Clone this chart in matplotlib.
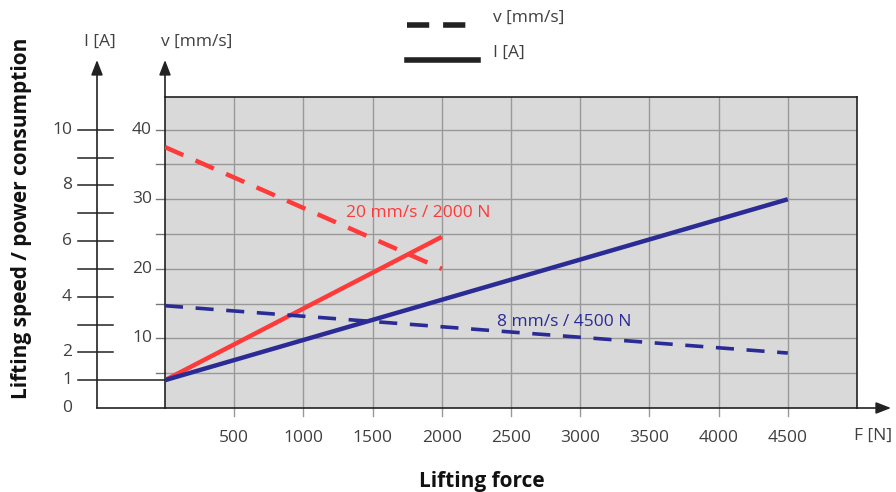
import matplotlib
matplotlib.use("Agg")
import matplotlib.pyplot as plt
from matplotlib.transforms import blended_transform_factory

plt.rcParams['font.family'] = ['Open Sans', 'DejaVu Sans']

# data (force in N, speed in mm/s, current in A)
force_fast = [0, 2000]
speed_fast = [37.5, 20.0]
current_fast = [1.0, 6.15]

force_slow = [0, 4500]
speed_slow = [14.7, 7.9]
current_slow = [1.0, 7.5]

x_ticks = [500, 1000, 1500, 2000, 2500, 3000, 3500, 4000, 4500]
v_ticks = [10, 20, 30, 40]
v_grid = [5, 10, 15, 20, 25, 30, 35, 40]
i_ticks = [0, 1, 2, 3, 4, 5, 6, 7, 8, 9, 10]
i_labels = ['0', '1', '2', '', '4', '', '6', '', '8', '', '10']

RED = '#ff3a3a'
BLUE = '#2b2b96'
TXT = '#404040'
W, H = 896, 492

fig = plt.figure(figsize=(W / 100, H / 100), dpi=100)

def fx(px):
    return px / W

def fy(py):
    return 1 - py / H

# plot box in pixels: x 165..857, y 97..408
ax = fig.add_axes([fx(165), fy(408), fx(857) - fx(165), fy(97) - fy(408)])
ax.set_facecolor('#d9d9d9')
ax.set_xlim(0, 5000)
ax.set_ylim(0, 44.7)
for s in ax.spines.values():
    s.set_color('#222222')
    s.set_linewidth(1.2)
ax.set_xticks([])
ax.set_yticks([])

for x in x_ticks:
    ax.axvline(x, color='#999999', lw=1.0, zorder=1)
    ax.plot([x, x], [0, -1.2], color='#999999', lw=1.0, clip_on=False)
    ax.text(x, -3.2, f'{x}', ha='center', va='top', fontsize=12.5, color=TXT)
for v in v_grid:
    ax.axhline(v, color='#999999', lw=1.0, zorder=1)

# data lines
ax.plot(force_fast, speed_fast, color=RED, lw=3.2, ls=(0, (4.5, 3)), zorder=3)
ax.plot(force_fast, [4 * c for c in current_fast], color=RED, lw=3.2, zorder=3, solid_capstyle='butt')
ax.plot(force_slow, speed_slow, color=BLUE, lw=2.6, ls=(0, (5, 3.5)), zorder=3)
ax.plot(force_slow, [4 * c for c in current_slow], color=BLUE, lw=3.2, zorder=3, solid_capstyle='butt')

ax.text(1310, 28.0, '20 mm/s / 2000 N', color=RED, fontsize=12.5, ha='left', va='center', zorder=4)
ax.text(2400, 12.4, '8 mm/s / 4500 N', color=BLUE, fontsize=12.5, ha='left', va='center', zorder=4)

# v axis (left edge of box) with ticks
tv = blended_transform_factory(fig.transFigure, ax.transData)
for v in v_grid:
    ax.plot([fx(156), fx(165)], [v, v], transform=tv, color='#777777', lw=1.0, clip_on=False)
for v in v_ticks:
    ax.text(fx(152), v, f'{v}', transform=tv, ha='right', va='center', fontsize=12.5, color=TXT)

# I axis, same vertical scale: I = v / 4
for i, lab in zip(i_ticks, i_labels):
    if i > 0:
        x1 = 165 if i == 1 else 113
        ax.plot([fx(78), fx(x1)], [4 * i, 4 * i], transform=tv, color='#222222', lw=1.1,
                clip_on=False)
    if lab:
        ax.text(fx(72), 4 * i, lab, transform=tv, ha='right', va='center', fontsize=12.5,
                color=TXT)

arrow = dict(arrowstyle='-|>,head_width=0.35,head_length=0.9', color='#222222', lw=1.2,
             shrinkA=0, shrinkB=0)
fig.add_artist(plt.Line2D([fx(97), fx(165)], [fy(408), fy(408)], color='#222222', lw=1.2))
ax.annotate('', xy=(fx(97), fy(60)), xytext=(fx(97), fy(408)), xycoords='figure fraction',
            textcoords='figure fraction', arrowprops=arrow, annotation_clip=False)
ax.annotate('', xy=(fx(165), fy(60)), xytext=(fx(165), fy(97)), xycoords='figure fraction',
            textcoords='figure fraction', arrowprops=arrow, annotation_clip=False)
ax.annotate('', xy=(fx(891), fy(408)), xytext=(fx(857), fy(408)), xycoords='figure fraction',
            textcoords='figure fraction', arrowprops=arrow, annotation_clip=False)

fig.text(fx(100), fy(42), 'I [A]', ha='center', va='center', fontsize=12.5, color=TXT)
fig.text(fx(197), fy(42), 'v [mm/s]', ha='center', va='center', fontsize=12.5, color=TXT)
fig.text(fx(873), fy(436), 'F [N]', ha='center', va='center', fontsize=12.5, color=TXT)

# legend
fig.add_artist(plt.Line2D([fx(407), fx(478)], [fy(25), fy(25)], color='#222222', lw=4,
                          ls=(0, (4, 2.5))))
fig.add_artist(plt.Line2D([fx(407), fx(478)], [fy(60), fy(60)], color='#222222', lw=4))
fig.text(fx(493), fy(18), 'v [mm/s]', ha='left', va='center', fontsize=12.5, color=TXT)
fig.text(fx(493), fy(53), 'I [A]', ha='left', va='center', fontsize=12.5, color=TXT)

# axis titles
fig.text(fx(22), fy(218), 'Lifting speed / power consumption', rotation=90, ha='center',
         va='center', fontsize=15, fontweight='bold', color='#111111')
fig.text(fx(482), fy(481), 'Lifting force', ha='center', va='center', fontsize=15,
         fontweight='bold', color='#111111')

fig.savefig('out.png', dpi=100)
